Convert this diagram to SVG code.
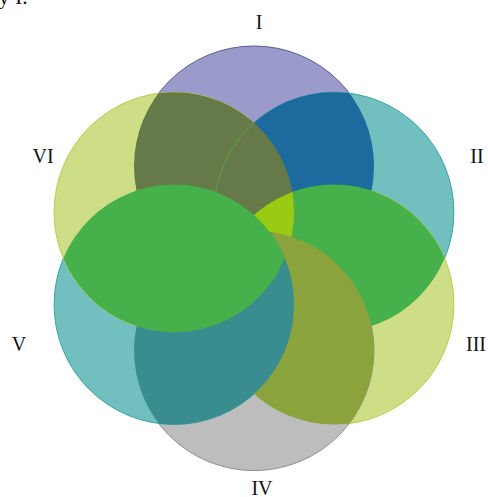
<svg xmlns="http://www.w3.org/2000/svg" width="488" height="497" viewBox="0 0 488 497">
<style>
  .lbl{font-family:"Liberation Serif","Times New Roman",serif;font-size:20px;fill:#111;}
  .ring{stroke-width:1;}
  .lens{stroke:none;}
</style>
<defs>
  <clipPath id="kI"><circle cx="254" cy="166" r="120"/></clipPath>
  <clipPath id="kII"><circle cx="333.9" cy="212.2" r="120"/></clipPath>
  <clipPath id="kIII"><circle cx="333.9" cy="304.5" r="120"/></clipPath>
  <clipPath id="kIV"><circle cx="254" cy="350.6" r="120"/></clipPath>
  <clipPath id="kV"><circle cx="174.1" cy="304.5" r="120"/></clipPath>
  <clipPath id="kVI"><circle cx="174.1" cy="212.2" r="120"/></clipPath>
</defs>
<rect width="488" height="497" fill="#ffffff"/>
<text class="lbl" x="-1.5" y="4" style="font-size:22px">y I.</text>

<g id="set-I">
  <circle class="ring" cx="254" cy="166" r="120" fill="#9a9acb" stroke="#5a5a96"/>
  <text class="lbl" x="259" y="29" text-anchor="middle">I</text>
</g>
<g id="set-II">
  <circle class="ring" cx="333.9" cy="212.2" r="120" fill="#72bfbf" stroke="#3aa2a4"/>
  <text class="lbl" x="477" y="163" text-anchor="middle">II</text>
</g>
<g id="set-III">
  <circle class="ring" cx="333.9" cy="304.5" r="120" fill="#cede86" stroke="#b3cc4e"/>
  <text class="lbl" x="476" y="351" text-anchor="middle">III</text>
</g>
<g id="set-IV">
  <circle class="ring" cx="254" cy="350.6" r="120" fill="#bdbdbd" stroke="#8f8f8f"/>
  <text class="lbl" x="262" y="495" text-anchor="middle">IV</text>
</g>
<g id="set-V">
  <circle class="ring" cx="174.1" cy="304.5" r="120" fill="#72bfbf" stroke="#3aa2a4"/>
  <text class="lbl" x="19" y="351" text-anchor="middle">V</text>
</g>
<g id="set-VI">
  <circle class="ring" cx="174.1" cy="212.2" r="120" fill="#cede86" stroke="#b3cc4e"/>
  <text class="lbl" x="43" y="163" text-anchor="middle">VI</text>
</g>

<g id="overlaps">
  <circle id="lens-I-II" class="lens" cx="254" cy="166" r="120" fill="#1d6a9e" clip-path="url(#kII)"/>
  <circle id="lens-II-III" class="lens" cx="333.9" cy="212.2" r="120" fill="#46b04a" clip-path="url(#kIII)"/>
  <circle id="lens-I-VI" class="lens" cx="254" cy="166" r="120" fill="#657a48" clip-path="url(#kVI)"/>
  <path d="M255,121.8 A120,120 0 0,0 213.9,212.2" fill="none" stroke="#5fae45" stroke-width="1" opacity="0.7"/>
  <circle id="lens-III-VI" class="lens" cx="333.9" cy="304.5" r="120" fill="#9acb12" clip-path="url(#kVI)"/>
  <circle id="lens-III-IV" class="lens" cx="333.9" cy="304.5" r="120" fill="#8aa33c" clip-path="url(#kIV)"/>
  <circle id="lens-IV-V" class="lens" cx="254" cy="350.6" r="120" fill="#3a8d8f" clip-path="url(#kV)"/>
  <circle id="lens-V-VI" class="lens" cx="174.1" cy="304.5" r="120" fill="#46b04a" stroke="#7cc850" stroke-width="1" clip-path="url(#kVI)"/>
</g>
</svg>
